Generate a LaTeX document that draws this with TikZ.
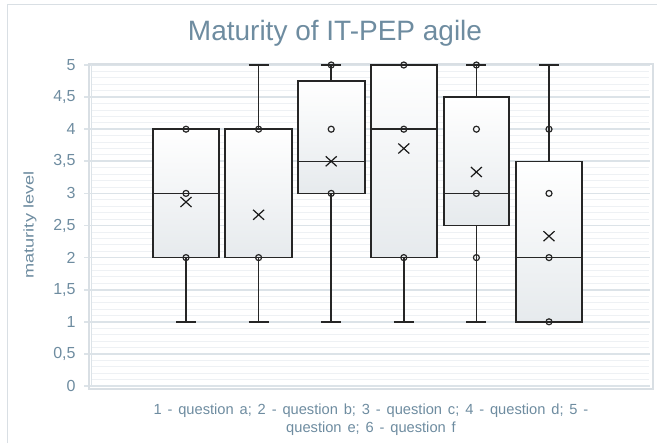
\documentclass[tikz,border=0pt]{standalone}
\usepackage{fontspec}
\setmainfont{Liberation Sans}

\definecolor{axistext}{RGB}{110,140,160}
\definecolor{gridmajor}{RGB}{220,227,232}
\definecolor{gridminor}{RGB}{238,241,244}
\definecolor{framegray}{RGB}{217,223,228}
\definecolor{boxbottom}{RGB}{230,234,237}

\tikzset{every picture/.style={line width=0.75pt}}
\tikzset{
  qbox/.style={draw=black!85, line width=1.1pt, top color=white, bottom color=boxbottom},
  whisker/.style={draw=black!85, line width=1.1pt},
  obs/.style={draw=black!85, line width=0.9pt},
  meanmark/.style={draw=black!90, line width=0.9pt},
  ticklabel/.style={anchor=east, inner sep=0.75pt, text=axistext, font=\fontsize{12}{14}\selectfont},
}
\newcommand{\widespaces}{\spaceskip=0.4em\relax}

\begin{document}
\begin{tikzpicture}[x=0.75pt,y=0.75pt,yscale=-1,xscale=1]
\useasboundingbox (0,0) rectangle (657,443);

%Chart frame
\draw [color=framegray]  (7,443) -- (7,4) -- (657,4) ;

%Grid: minor lines every 0.1
\foreach \k in {1,...,49}
  \draw [color=gridminor, line width=0.6pt]  (91,{386-6.42*\k}) -- (649,{386-6.42*\k}) ;
%Grid: major lines every 0.5
\foreach \k in {0,...,10}
  \draw [color=gridmajor, line width=1.3pt]  (84,{386-32.1*\k}) -- (650,{386-32.1*\k}) ;
%Plot area walls
\draw [color=framegray, line width=1pt]  (89,64) -- (653,64) -- (653,389) -- (89,389) -- cycle ;
\draw [color=gridmajor]  (91,64) -- (91,386) ;

%Box 1
\draw [qbox]  (153,129.2) rectangle (219,257.6) ;
\draw [whisker]  (153,193.4) -- (219,193.4) ;
\draw [whisker]  (186,257.6) -- (186,321.8) ;
\draw [whisker]  (176,321.8) -- (196,321.8) ;
\draw [obs]  (186,129.2) circle [radius=3] ;
\draw [obs]  (186,193.4) circle [radius=3] ;
\draw [obs]  (186,257.6) circle [radius=3] ;
\draw [meanmark]  (180.5,197) -- (191.5,207) (180.5,207) -- (191.5,197) ;

%Box 2
\draw [qbox]  (225,129.2) rectangle (292,257.6) ;
\draw [whisker]  (258.6,129.2) -- (258.6,65) ;
\draw [whisker]  (248.6,65) -- (268.6,65) ;
\draw [whisker]  (258.6,257.6) -- (258.6,321.8) ;
\draw [whisker]  (248.6,321.8) -- (268.6,321.8) ;
\draw [obs]  (258.6,129.2) circle [radius=3] ;
\draw [obs]  (258.6,257.6) circle [radius=3] ;
\draw [meanmark]  (253.1,209.8) -- (264.1,219.8) (253.1,219.8) -- (264.1,209.8) ;

%Box 3
\draw [qbox]  (298,81) rectangle (365,193.4) ;
\draw [whisker]  (298,161.3) -- (365,161.3) ;
\draw [whisker]  (331.2,81) -- (331.2,65) ;
\draw [whisker]  (321.2,65) -- (341.2,65) ;
\draw [whisker]  (331.2,193.4) -- (331.2,321.8) ;
\draw [whisker]  (321.2,321.8) -- (341.2,321.8) ;
\draw [obs]  (331.2,65) circle [radius=3] ;
\draw [obs]  (331.2,129.2) circle [radius=3] ;
\draw [obs]  (331.2,193.4) circle [radius=3] ;
\draw [meanmark]  (325.7,156.3) -- (336.7,166.3) (325.7,166.3) -- (336.7,156.3) ;

%Box 4
\draw [qbox]  (371,65) rectangle (437,257.6) ;
\draw [whisker]  (371,129.2) -- (437,129.2) ;
\draw [whisker]  (403.8,257.6) -- (403.8,321.8) ;
\draw [whisker]  (393.8,321.8) -- (413.8,321.8) ;
\draw [obs]  (403.8,65) circle [radius=3] ;
\draw [obs]  (403.8,129.2) circle [radius=3] ;
\draw [obs]  (403.8,257.6) circle [radius=3] ;
\draw [meanmark]  (398.3,143.5) -- (409.3,153.5) (398.3,153.5) -- (409.3,143.5) ;

%Box 5
\draw [qbox]  (444,97.1) rectangle (509,225.5) ;
\draw [whisker]  (444,193.4) -- (509,193.4) ;
\draw [whisker]  (476.4,97.1) -- (476.4,65) ;
\draw [whisker]  (466.4,65) -- (486.4,65) ;
\draw [whisker]  (476.4,225.5) -- (476.4,321.8) ;
\draw [whisker]  (466.4,321.8) -- (486.4,321.8) ;
\draw [obs]  (476.4,65) circle [radius=3] ;
\draw [obs]  (476.4,129.2) circle [radius=3] ;
\draw [obs]  (476.4,193.4) circle [radius=3] ;
\draw [obs]  (476.4,257.6) circle [radius=3] ;
\draw [meanmark]  (470.9,167) -- (481.9,177) (470.9,177) -- (481.9,167) ;

%Box 6
\draw [qbox]  (516,161.3) rectangle (582,321.8) ;
\draw [whisker]  (516,257.6) -- (582,257.6) ;
\draw [whisker]  (549,161.3) -- (549,65) ;
\draw [whisker]  (539,65) -- (559,65) ;
\draw [obs]  (549,129.2) circle [radius=3] ;
\draw [obs]  (549,193.4) circle [radius=3] ;
\draw [obs]  (549,257.6) circle [radius=3] ;
\draw [obs]  (549,321.8) circle [radius=3] ;
\draw [meanmark]  (543.5,231.2) -- (554.5,241.2) (543.5,241.2) -- (554.5,231.2) ;

% Text Node
\draw (335,33) node [inner sep=0.75pt, text=axistext, font=\fontsize{21}{24}\selectfont]  (title) {Maturity of IT-PEP agile};
% Text Node
\draw (30,225) node [inner sep=0.75pt, text=axistext, font=\fontsize{10.5}{12}\selectfont, rotate=90, xscale=1.3]  (ylabel) {maturity level};
% Text Nodes
\draw (77,386) node [ticklabel] (t0) {0};
\draw (77,353.9) node [ticklabel] (t1) {0,5};
\draw (77,321.8) node [ticklabel] (t2) {1};
\draw (77,289.7) node [ticklabel] (t3) {1,5};
\draw (77,257.6) node [ticklabel] (t4) {2};
\draw (77,225.5) node [ticklabel] (t5) {2,5};
\draw (77,193.4) node [ticklabel] (t6) {3};
\draw (77,161.3) node [ticklabel] (t7) {3,5};
\draw (77,129.2) node [ticklabel] (t8) {4};
\draw (77,97.1) node [ticklabel] (t9) {4,5};
\draw (77,65) node [ticklabel] (t10) {5};
% Text Node
\draw (371,420) node [inner sep=0.75pt, text=axistext, align=center, font=\fontsize{11}{13.5}\selectfont\widespaces]  (caption) {1 - question a; 2 - question b; 3 - question c; 4 - question d; 5 -\\question e; 6 - question f};

\end{tikzpicture}
\end{document}
